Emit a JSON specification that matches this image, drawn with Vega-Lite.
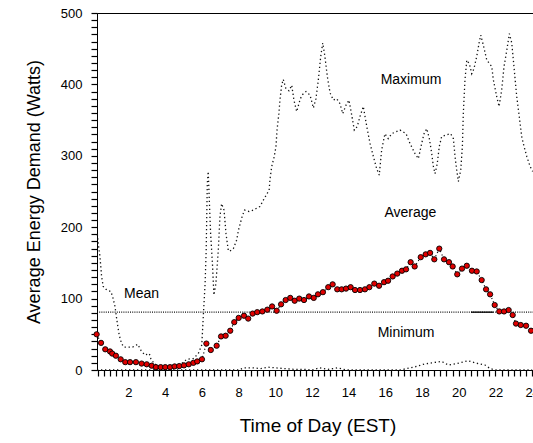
{
  "$schema": "https://vega.github.io/schema/vega-lite/v6.json",
  "autosize": {"type": "none"},
  "padding": {"left": 97, "top": 13, "right": 0, "bottom": 73},
  "width": 441,
  "height": 357,
  "background": "white",
  "config": {
    "view": {"stroke": "black", "strokeWidth": 1},
    "font": "Liberation Sans"
  },
  "datasets": {
    "avg": [
      {"hour":0.27,"value":50},{"hour":0.51,"value":38},{"hour":0.74,"value":29},{"hour":1.00,"value":26},{"hour":1.12,"value":23},{"hour":1.32,"value":20},{"hour":1.58,"value":15},{"hour":1.83,"value":11},{"hour":2.09,"value":11},{"hour":2.41,"value":11},{"hour":2.72,"value":9},{"hour":3.00,"value":8},{"hour":3.27,"value":6},{"hour":3.50,"value":4},{"hour":3.76,"value":4},{"hour":4.01,"value":4},{"hour":4.27,"value":4},{"hour":4.52,"value":5},{"hour":4.77,"value":5.5},{"hour":5.03,"value":6.5},{"hour":5.29,"value":8},{"hour":5.54,"value":10},{"hour":5.75,"value":12},{"hour":6.01,"value":15},{"hour":6.25,"value":37},{"hour":6.49,"value":28},{"hour":6.81,"value":34},{"hour":7.05,"value":47},{"hour":7.30,"value":48},{"hour":7.55,"value":55},{"hour":7.77,"value":67},{"hour":8.01,"value":73},{"hour":8.30,"value":76},{"hour":8.53,"value":72},{"hour":8.77,"value":79},{"hour":9.02,"value":81},{"hour":9.30,"value":82},{"hour":9.57,"value":84.5},{"hour":9.83,"value":89},{"hour":10.08,"value":83},{"hour":10.32,"value":92},{"hour":10.57,"value":98},{"hour":10.82,"value":101},{"hour":11.06,"value":97},{"hour":11.31,"value":100},{"hour":11.57,"value":98},{"hour":11.84,"value":103},{"hour":12.10,"value":101},{"hour":12.33,"value":106},{"hour":12.60,"value":109},{"hour":12.89,"value":116},{"hour":13.13,"value":120},{"hour":13.38,"value":113},{"hour":13.62,"value":113},{"hour":13.86,"value":114},{"hour":14.11,"value":116},{"hour":14.35,"value":112},{"hour":14.62,"value":112},{"hour":14.89,"value":113},{"hour":15.13,"value":116},{"hour":15.40,"value":121},{"hour":15.66,"value":118},{"hour":15.93,"value":123},{"hour":16.15,"value":125},{"hour":16.40,"value":131},{"hour":16.65,"value":135},{"hour":16.91,"value":139},{"hour":17.13,"value":141},{"hour":17.38,"value":151},{"hour":17.60,"value":145},{"hour":17.93,"value":158},{"hour":18.20,"value":162},{"hour":18.44,"value":164},{"hour":18.67,"value":155},{"hour":18.94,"value":170},{"hour":19.20,"value":155},{"hour":19.47,"value":151},{"hour":19.67,"value":145},{"hour":19.92,"value":134},{"hour":20.18,"value":142},{"hour":20.44,"value":146},{"hour":20.72,"value":139},{"hour":20.98,"value":138},{"hour":21.25,"value":126},{"hour":21.49,"value":113},{"hour":21.71,"value":106},{"hour":21.96,"value":91},{"hour":22.21,"value":82},{"hour":22.47,"value":82},{"hour":22.72,"value":84},{"hour":22.94,"value":77},{"hour":23.12,"value":65},{"hour":23.38,"value":63},{"hour":23.67,"value":62},{"hour":23.94,"value":55}
    ],
    "max": [
      {"hour":0.31,"value":190},{"hour":0.36,"value":177},{"hour":0.45,"value":159},{"hour":0.54,"value":131},{"hour":0.63,"value":117},{"hour":0.82,"value":112},{"hour":1.04,"value":110},{"hour":1.14,"value":103},{"hour":1.27,"value":89},{"hour":1.40,"value":65},{"hour":1.50,"value":49},{"hour":1.63,"value":37},{"hour":1.76,"value":32},{"hour":1.99,"value":32},{"hour":2.23,"value":32},{"hour":2.51,"value":36},{"hour":2.67,"value":28},{"hour":2.90,"value":21},{"hour":3.14,"value":23},{"hour":3.22,"value":16},{"hour":3.40,"value":9},{"hour":3.70,"value":5},{"hour":4.00,"value":4},{"hour":4.50,"value":5},{"hour":4.90,"value":9},{"hour":5.18,"value":15},{"hour":5.54,"value":16},{"hour":5.81,"value":23},{"hour":6.00,"value":35},{"hour":6.09,"value":79},{"hour":6.18,"value":121},{"hour":6.24,"value":168},{"hour":6.27,"value":215},{"hour":6.30,"value":261},{"hour":6.35,"value":278},{"hour":6.41,"value":238},{"hour":6.48,"value":191},{"hour":6.59,"value":145},{"hour":6.66,"value":105},{"hour":6.77,"value":121},{"hour":6.90,"value":168},{"hour":6.99,"value":215},{"hour":7.08,"value":233},{"hour":7.21,"value":224},{"hour":7.32,"value":191},{"hour":7.44,"value":168},{"hour":7.50,"value":166},{"hour":7.72,"value":170},{"hour":7.90,"value":182},{"hour":8.00,"value":196},{"hour":8.20,"value":215},{"hour":8.33,"value":224},{"hour":8.57,"value":222},{"hour":8.80,"value":224},{"hour":9.17,"value":229},{"hour":9.40,"value":240},{"hour":9.67,"value":252},{"hour":9.72,"value":268},{"hour":9.81,"value":285},{"hour":9.95,"value":299},{"hour":10.04,"value":313},{"hour":10.10,"value":336},{"hour":10.20,"value":359},{"hour":10.26,"value":378},{"hour":10.35,"value":399},{"hour":10.44,"value":407},{"hour":10.57,"value":395},{"hour":10.75,"value":391},{"hour":10.90,"value":399},{"hour":11.02,"value":378},{"hour":11.17,"value":362},{"hour":11.37,"value":380},{"hour":11.50,"value":386},{"hour":11.68,"value":390},{"hour":11.90,"value":385},{"hour":12.08,"value":367},{"hour":12.22,"value":380},{"hour":12.35,"value":406},{"hour":12.48,"value":439},{"hour":12.59,"value":458},{"hour":12.71,"value":439},{"hour":12.84,"value":411},{"hour":12.99,"value":388},{"hour":13.17,"value":378},{"hour":13.35,"value":380},{"hour":13.53,"value":373},{"hour":13.68,"value":359},{"hour":13.86,"value":371},{"hour":14.02,"value":378},{"hour":14.17,"value":357},{"hour":14.31,"value":336},{"hour":14.47,"value":341},{"hour":14.62,"value":355},{"hour":14.80,"value":369},{"hour":14.99,"value":341},{"hour":15.17,"value":317},{"hour":15.35,"value":299},{"hour":15.53,"value":282},{"hour":15.67,"value":273},{"hour":15.80,"value":308},{"hour":15.98,"value":331},{"hour":16.16,"value":324},{"hour":16.35,"value":331},{"hour":16.80,"value":336},{"hour":17.13,"value":331},{"hour":17.35,"value":317},{"hour":17.62,"value":303},{"hour":17.80,"value":296},{"hour":17.98,"value":317},{"hour":18.11,"value":331},{"hour":18.26,"value":338},{"hour":18.40,"value":324},{"hour":18.53,"value":303},{"hour":18.62,"value":285},{"hour":18.71,"value":275},{"hour":18.83,"value":289},{"hour":18.94,"value":313},{"hour":19.07,"value":327},{"hour":19.29,"value":329},{"hour":19.56,"value":331},{"hour":19.71,"value":324},{"hour":19.80,"value":299},{"hour":19.89,"value":280},{"hour":19.98,"value":264},{"hour":20.11,"value":280},{"hour":20.20,"value":313},{"hour":20.25,"value":359},{"hour":20.34,"value":406},{"hour":20.44,"value":434},{"hour":20.58,"value":429},{"hour":20.71,"value":415},{"hour":20.83,"value":422},{"hour":20.98,"value":439},{"hour":21.11,"value":458},{"hour":21.20,"value":469},{"hour":21.34,"value":455},{"hour":21.53,"value":434},{"hour":21.80,"value":425},{"hour":21.89,"value":406},{"hour":22.07,"value":383},{"hour":22.20,"value":369},{"hour":22.34,"value":392},{"hour":22.47,"value":425},{"hour":22.62,"value":448},{"hour":22.76,"value":471},{"hour":22.89,"value":458},{"hour":23.01,"value":425},{"hour":23.16,"value":383},{"hour":23.30,"value":355},{"hour":23.43,"value":327},{"hour":23.56,"value":313},{"hour":23.71,"value":299},{"hour":23.89,"value":285},{"hour":24.03,"value":278}
    ],
    "min": [
      {"hour":0.29,"value":0},{"hour":4.0,"value":0},{"hour":8.0,"value":0},{"hour":8.3,"value":3},{"hour":8.8,"value":3},{"hour":9.2,"value":2},{"hour":9.6,"value":4},{"hour":10.0,"value":3},{"hour":10.5,"value":2},{"hour":11.0,"value":1},{"hour":11.5,"value":1},{"hour":12.0,"value":0},{"hour":12.4,"value":3},{"hour":12.9,"value":1},{"hour":13.4,"value":3},{"hour":13.9,"value":0},{"hour":16.8,"value":0},{"hour":17.17,"value":2},{"hour":17.71,"value":5},{"hour":18.07,"value":8},{"hour":18.53,"value":10},{"hour":19.07,"value":12},{"hour":19.43,"value":7},{"hour":19.89,"value":9},{"hour":20.52,"value":13},{"hour":20.89,"value":10},{"hour":21.43,"value":7},{"hour":21.71,"value":2},{"hour":22.0,"value":0},{"hour":24.0,"value":0}
    ],
    "mean": [{"hour":0.29,"value":81},{"hour":24.32,"value":81}],
    "seg": [{"hour":20.67,"value":81},{"hour":21.88,"value":81}],
    "labels": [
      {"hour":17.4,"value":406,"text":"Maximum"},
      {"hour":17.37,"value":220,"text":"Average"},
      {"hour":17.13,"value":52,"text":"Minimum"},
      {"hour":2.72,"value":107,"text":"Mean"}
    ]
  },
  "encoding": {
    "x": {
      "field": "hour", "type": "quantitative",
      "scale": {"domain": [0.29, 24.32], "nice": false, "zero": false},
      "axis": {
        "title": "Time of Day (EST)",
        "values": [0.3333,0.6667,1,1.3333,1.6667,2,2.3333,2.6667,3,3.3333,3.6667,4,4.3333,4.6667,5,5.3333,5.6667,6,6.3333,6.6667,7,7.3333,7.6667,8,8.3333,8.6667,9,9.3333,9.6667,10,10.3333,10.6667,11,11.3333,11.6667,12,12.3333,12.6667,13,13.3333,13.6667,14,14.3333,14.6667,15,15.3333,15.6667,16,16.3333,16.6667,17,17.3333,17.6667,18,18.3333,18.6667,19,19.3333,19.6667,20,20.3333,20.6667,21,21.3333,21.6667,22,22.3333,22.6667,23,23.3333,23.6667,24],
        "labelExpr": "abs(datum.value - round(datum.value)) < 0.01 && round(datum.value) % 2 == 0 ? '' + round(datum.value) : ''",
        "ticks": true, "tickOpacity": 1, "domain": true,
        "gridOpacity": 0, "tickSize": 6, "tickColor": "black", "tickWidth": 1.2,
        "domainColor": "black", "labelColor": "black", "labelFontSize": 13, "labelPadding": 10,
        "titleFontSize": 19, "titleFontWeight": "normal", "titlePadding": 17
      }
    },
    "y": {
      "field": "value", "type": "quantitative",
      "scale": {"domain": [0, 500], "nice": false},
      "axis": {
        "title": "Average Energy Demand (Watts)",
        "values": [0,10,20,30,40,50,60,70,80,90,100,110,120,130,140,150,160,170,180,190,200,210,220,230,240,250,260,270,280,290,300,310,320,330,340,350,360,370,380,390,400,410,420,430,440,450,460,470,480,490,500],
        "labelExpr": "datum.value % 100 == 0 ? datum.label : ''",
        "ticks": true, "tickOpacity": 1, "domain": true,
        "gridOpacity": 0, "tickSize": 6, "tickColor": "black", "tickWidth": 1.2,
        "domainColor": "black", "labelColor": "black", "labelFontSize": 13, "labelPadding": 9,
        "titleFontSize": 18, "titleFontWeight": "normal", "titlePadding": 17
      }
    }
  },
  "layer": [
    {"data": {"name": "max"}, "mark": {"type": "line", "color": "#111", "strokeWidth": 1.3, "strokeDash": [1.3, 2.7]}},
    {"data": {"name": "min"}, "mark": {"type": "line", "color": "#111", "strokeWidth": 1.3, "strokeDash": [1.3, 2.7]}},
    {"data": {"name": "mean"}, "mark": {"type": "line", "color": "#111", "strokeWidth": 1.2, "strokeDash": [1, 1.2]}},
    {"data": {"name": "seg"}, "mark": {"type": "line", "color": "black", "strokeWidth": 1.3}},
    {"data": {"name": "avg"}, "mark": {"type": "line", "color": "#111", "strokeWidth": 1.2, "strokeDash": [1.2, 2.5]}},
    {"data": {"name": "avg"}, "mark": {"type": "point", "filled": true, "fill": "#e00000", "stroke": "black", "strokeWidth": 0.9, "size": 28, "opacity": 1}},
    {"data": {"name": "labels"}, "mark": {"type": "text", "fontSize": 14, "color": "black", "align": "center", "baseline": "middle"}, "encoding": {"text": {"field": "text"}}}
  ]
}
